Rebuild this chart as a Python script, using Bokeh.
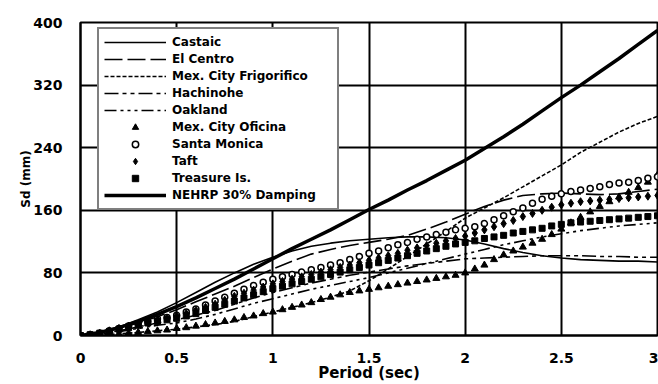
from bokeh.plotting import figure
from bokeh.models import Legend, LegendItem, FixedTicker, ColumnDataSource
from bokeh.embed import file_html
from bokeh.resources import INLINE

# ---- data ----
# line series, every 0.1 s
period = [0.0, 0.1, 0.2, 0.3, 0.4, 0.5, 0.6, 0.7, 0.8, 0.9,
          1.0, 1.1, 1.2, 1.3, 1.4, 1.5, 1.6, 1.7, 1.8, 1.9,
          2.0, 2.1, 2.2, 2.3, 2.4, 2.5, 2.6, 2.7, 2.8, 2.9, 3.0]

castaic = [0, 4, 11, 20, 30, 42, 55, 68, 80, 91,
           100, 108, 114, 118, 121, 123, 125, 126, 126, 125,
           122, 117, 111, 106, 102, 99, 97, 96, 95, 95, 94]
el_centro = [0, 3, 9, 16, 24, 33, 43, 53, 63, 74,
             85, 95, 104, 110, 115, 119, 123, 128, 136, 145,
             155, 165, 173, 179, 181, 182, 181, 180, 181, 184, 187]
frigorifico = [0, 1, 2, 4, 6, 8, 11, 14, 18, 24,
               30, 36, 42, 49, 57, 70, 85, 101, 117, 133,
               150, 163, 176, 190, 204, 218, 234, 247, 260, 271, 280]
hachinohe = [0, 2, 6, 11, 16, 20, 26, 32, 40, 48,
             55, 61, 67, 72, 77, 81, 85, 89, 92, 95,
             98, 99, 100, 101, 102, 102, 102, 101, 101, 100, 100]
oakland = [0, 2, 5, 9, 13, 16, 21, 27, 34, 41,
           47, 53, 59, 64, 69, 74, 80, 86, 92, 98,
           104, 110, 116, 121, 126, 130, 134, 137, 140, 142, 144]
nehrp = [0, 4, 10, 18, 27, 37, 48, 60, 72, 85,
         98, 111, 123, 135, 148, 161, 173, 186, 198, 211,
         224, 239, 254, 270, 287, 304, 320, 337, 354, 372, 390]

# marker series, every 0.05 s
period_fine = [0.0, 0.05, 0.1, 0.15, 0.2, 0.25, 0.3, 0.35, 0.4, 0.45,
               0.5, 0.55, 0.6, 0.65, 0.7, 0.75, 0.8, 0.85, 0.9, 0.95,
               1.0, 1.05, 1.1, 1.15, 1.2, 1.25, 1.3, 1.35, 1.4, 1.45,
               1.5, 1.55, 1.6, 1.65, 1.7, 1.75, 1.8, 1.85, 1.9, 1.95,
               2.0, 2.05, 2.1, 2.15, 2.2, 2.25, 2.3, 2.35, 2.4, 2.45,
               2.5, 2.55, 2.6, 2.65, 2.7, 2.75, 2.8, 2.85, 2.9, 2.95, 3.0]
oficina = [0, 0, 1, 1, 2, 3, 4, 5, 6, 7,
           9, 10, 12, 14, 16, 18, 20, 23, 25, 28,
           30, 33, 36, 39, 42, 46, 49, 52, 55, 57,
           59, 61, 63, 65, 67, 69, 71, 73, 75, 77,
           80, 85, 90, 97, 103, 108, 113, 118, 123, 129,
           136, 144, 151, 158, 165, 171, 177, 183, 189, 196, 205]
santa_monica = [0, 1, 3, 6, 9, 12, 15, 18, 21, 23,
                26, 30, 34, 39, 44, 49, 54, 59, 64, 68,
                72, 75, 78, 81, 84, 87, 90, 93, 97, 101,
                105, 108, 112, 116, 119, 123, 126, 129, 132, 135,
                137, 139, 143, 148, 153, 158, 163, 169, 174, 178,
                181, 184, 186, 188, 190, 193, 195, 196, 198, 201, 203]
taft = [0, 1, 3, 6, 9, 12, 15, 18, 20, 22,
        25, 28, 32, 36, 40, 45, 50, 54, 58, 62,
        66, 69, 72, 75, 78, 81, 84, 87, 90, 93,
        96, 99, 102, 105, 109, 112, 115, 118, 121, 124,
        127, 131, 135, 139, 143, 147, 152, 156, 160, 164,
        167, 169, 171, 172, 173, 174, 175, 176, 177, 178, 179]
treasure = [0, 1, 3, 5, 8, 10, 13, 16, 18, 20,
            22, 25, 28, 32, 36, 40, 44, 48, 52, 56,
            60, 63, 66, 69, 72, 75, 78, 81, 84, 87,
            90, 93, 96, 99, 102, 105, 108, 111, 114, 117,
            119, 121, 124, 126, 128, 131, 133, 135, 137, 140,
            142, 144, 145, 146, 147, 148, 149, 150, 151, 152, 153]

x_ticks = [0, 0.5, 1, 1.5, 2, 2.5, 3]
x_tick_labels = ["0", "0.5", "1", "1.5", "2", "2.5", "3"]
y_ticks = [0, 80, 160, 240, 320, 400]

lines = ColumnDataSource(dict(T=period, castaic=castaic, el_centro=el_centro,
                              frig=frigorifico, hach=hachinohe, oak=oakland,
                              nehrp=nehrp))
marks = ColumnDataSource(dict(T=period_fine, ofi=oficina, sm=santa_monica,
                              taft=taft, tr=treasure))

FONT = "DejaVu Sans"

p = figure(width=658, height=384, output_backend="svg", toolbar_location=None,
           x_range=(0, 3), y_range=(0, 400),
           min_border_left=80, min_border_right=1, min_border_top=22,
           min_border_bottom=47)
p.background_fill_color = "white"
p.outline_line_color = "black"
p.outline_line_width = 2

for ax in (p.xaxis[0], p.yaxis[0]):
    ax.axis_line_color = "black"
    ax.axis_line_width = 2
    ax.major_tick_line_color = None
    ax.minor_tick_line_color = None
    ax.major_label_text_font = FONT
    ax.major_label_text_font_style = "bold"
    ax.major_label_text_font_size = "14px"
    ax.major_label_text_color = "black"
    ax.axis_label_text_font = FONT
    ax.axis_label_text_font_style = "bold"
    ax.axis_label_text_color = "black"

p.xaxis.ticker = FixedTicker(ticks=x_ticks)
p.xaxis.major_label_overrides = {t: l for t, l in zip(x_ticks, x_tick_labels)}
p.yaxis.ticker = FixedTicker(ticks=y_ticks)
p.xaxis.axis_label = "Period (sec)"
p.yaxis.axis_label = "Sd (mm)"
p.xaxis.axis_label_text_font_size = "15px"
p.yaxis.axis_label_text_font_size = "12px"
p.xaxis.major_label_standoff = 11
p.xaxis.axis_label_standoff = -2
p.yaxis.major_label_standoff = 12
p.yaxis.axis_label_standoff = -3

for g in (p.xgrid[0], p.ygrid[0]):
    g.grid_line_color = "black"
    g.grid_line_width = 2
    g.grid_line_alpha = 1

r_cas = p.line("T", "castaic", source=lines, line_color="black", line_width=1.6)
r_elc = p.line("T", "el_centro", source=lines, line_color="black", line_width=1.6, line_dash="18 5")
r_frg = p.line("T", "frig", source=lines, line_color="black", line_width=1.6, line_dash="4 2")
r_hac = p.line("T", "hach", source=lines, line_color="black", line_width=1.6, line_dash="14 4 4 4 4 4")
r_oak = p.line("T", "oak", source=lines, line_color="black", line_width=1.6, line_dash="12 4 3 4 3 4 3 4")
r_ofi = p.scatter("T", "ofi", source=marks, marker="triangle", size=7, fill_color="black", line_color="black")
r_sm = p.scatter("T", "sm", source=marks, marker="circle", size=6, fill_color="white", line_color="black", line_width=1.5)
r_taf = p.scatter("T", "taft", source=marks, marker="diamond", size=8, fill_color="black", line_color="black")
r_tr = p.scatter("T", "tr", source=marks, marker="square", size=6, fill_color="black", line_color="black")
r_neh = p.line("T", "nehrp", source=lines, line_color="black", line_width=3.5)

items = [
    LegendItem(label="Castaic", renderers=[r_cas]),
    LegendItem(label="El Centro", renderers=[r_elc]),
    LegendItem(label="Mex. City Frigorifico", renderers=[r_frg]),
    LegendItem(label="Hachinohe", renderers=[r_hac]),
    LegendItem(label="Oakland", renderers=[r_oak]),
    LegendItem(label="Mex. City Oficina", renderers=[r_ofi]),
    LegendItem(label="Santa Monica", renderers=[r_sm]),
    LegendItem(label="Taft", renderers=[r_taf]),
    LegendItem(label="Treasure Is.", renderers=[r_tr]),
    LegendItem(label="NEHRP 30% Damping", renderers=[r_neh]),
]
legend = Legend(items=items, location=(17, 125))
legend.label_text_font = FONT
legend.label_text_font_style = "bold"
legend.label_text_font_size = "12px"
legend.label_text_color = "black"
legend.label_height = 16
legend.glyph_height = 16
legend.glyph_width = 62
legend.label_standoff = 6
legend.label_width = 160
legend.spacing = 1
legend.padding = 5
legend.margin = 0
legend.border_line_color = "black"
legend.border_line_width = 2
legend.background_fill_color = "white"
legend.background_fill_alpha = 1
p.add_layout(legend)

open("out.html", "w").write(file_html(p, INLINE))
